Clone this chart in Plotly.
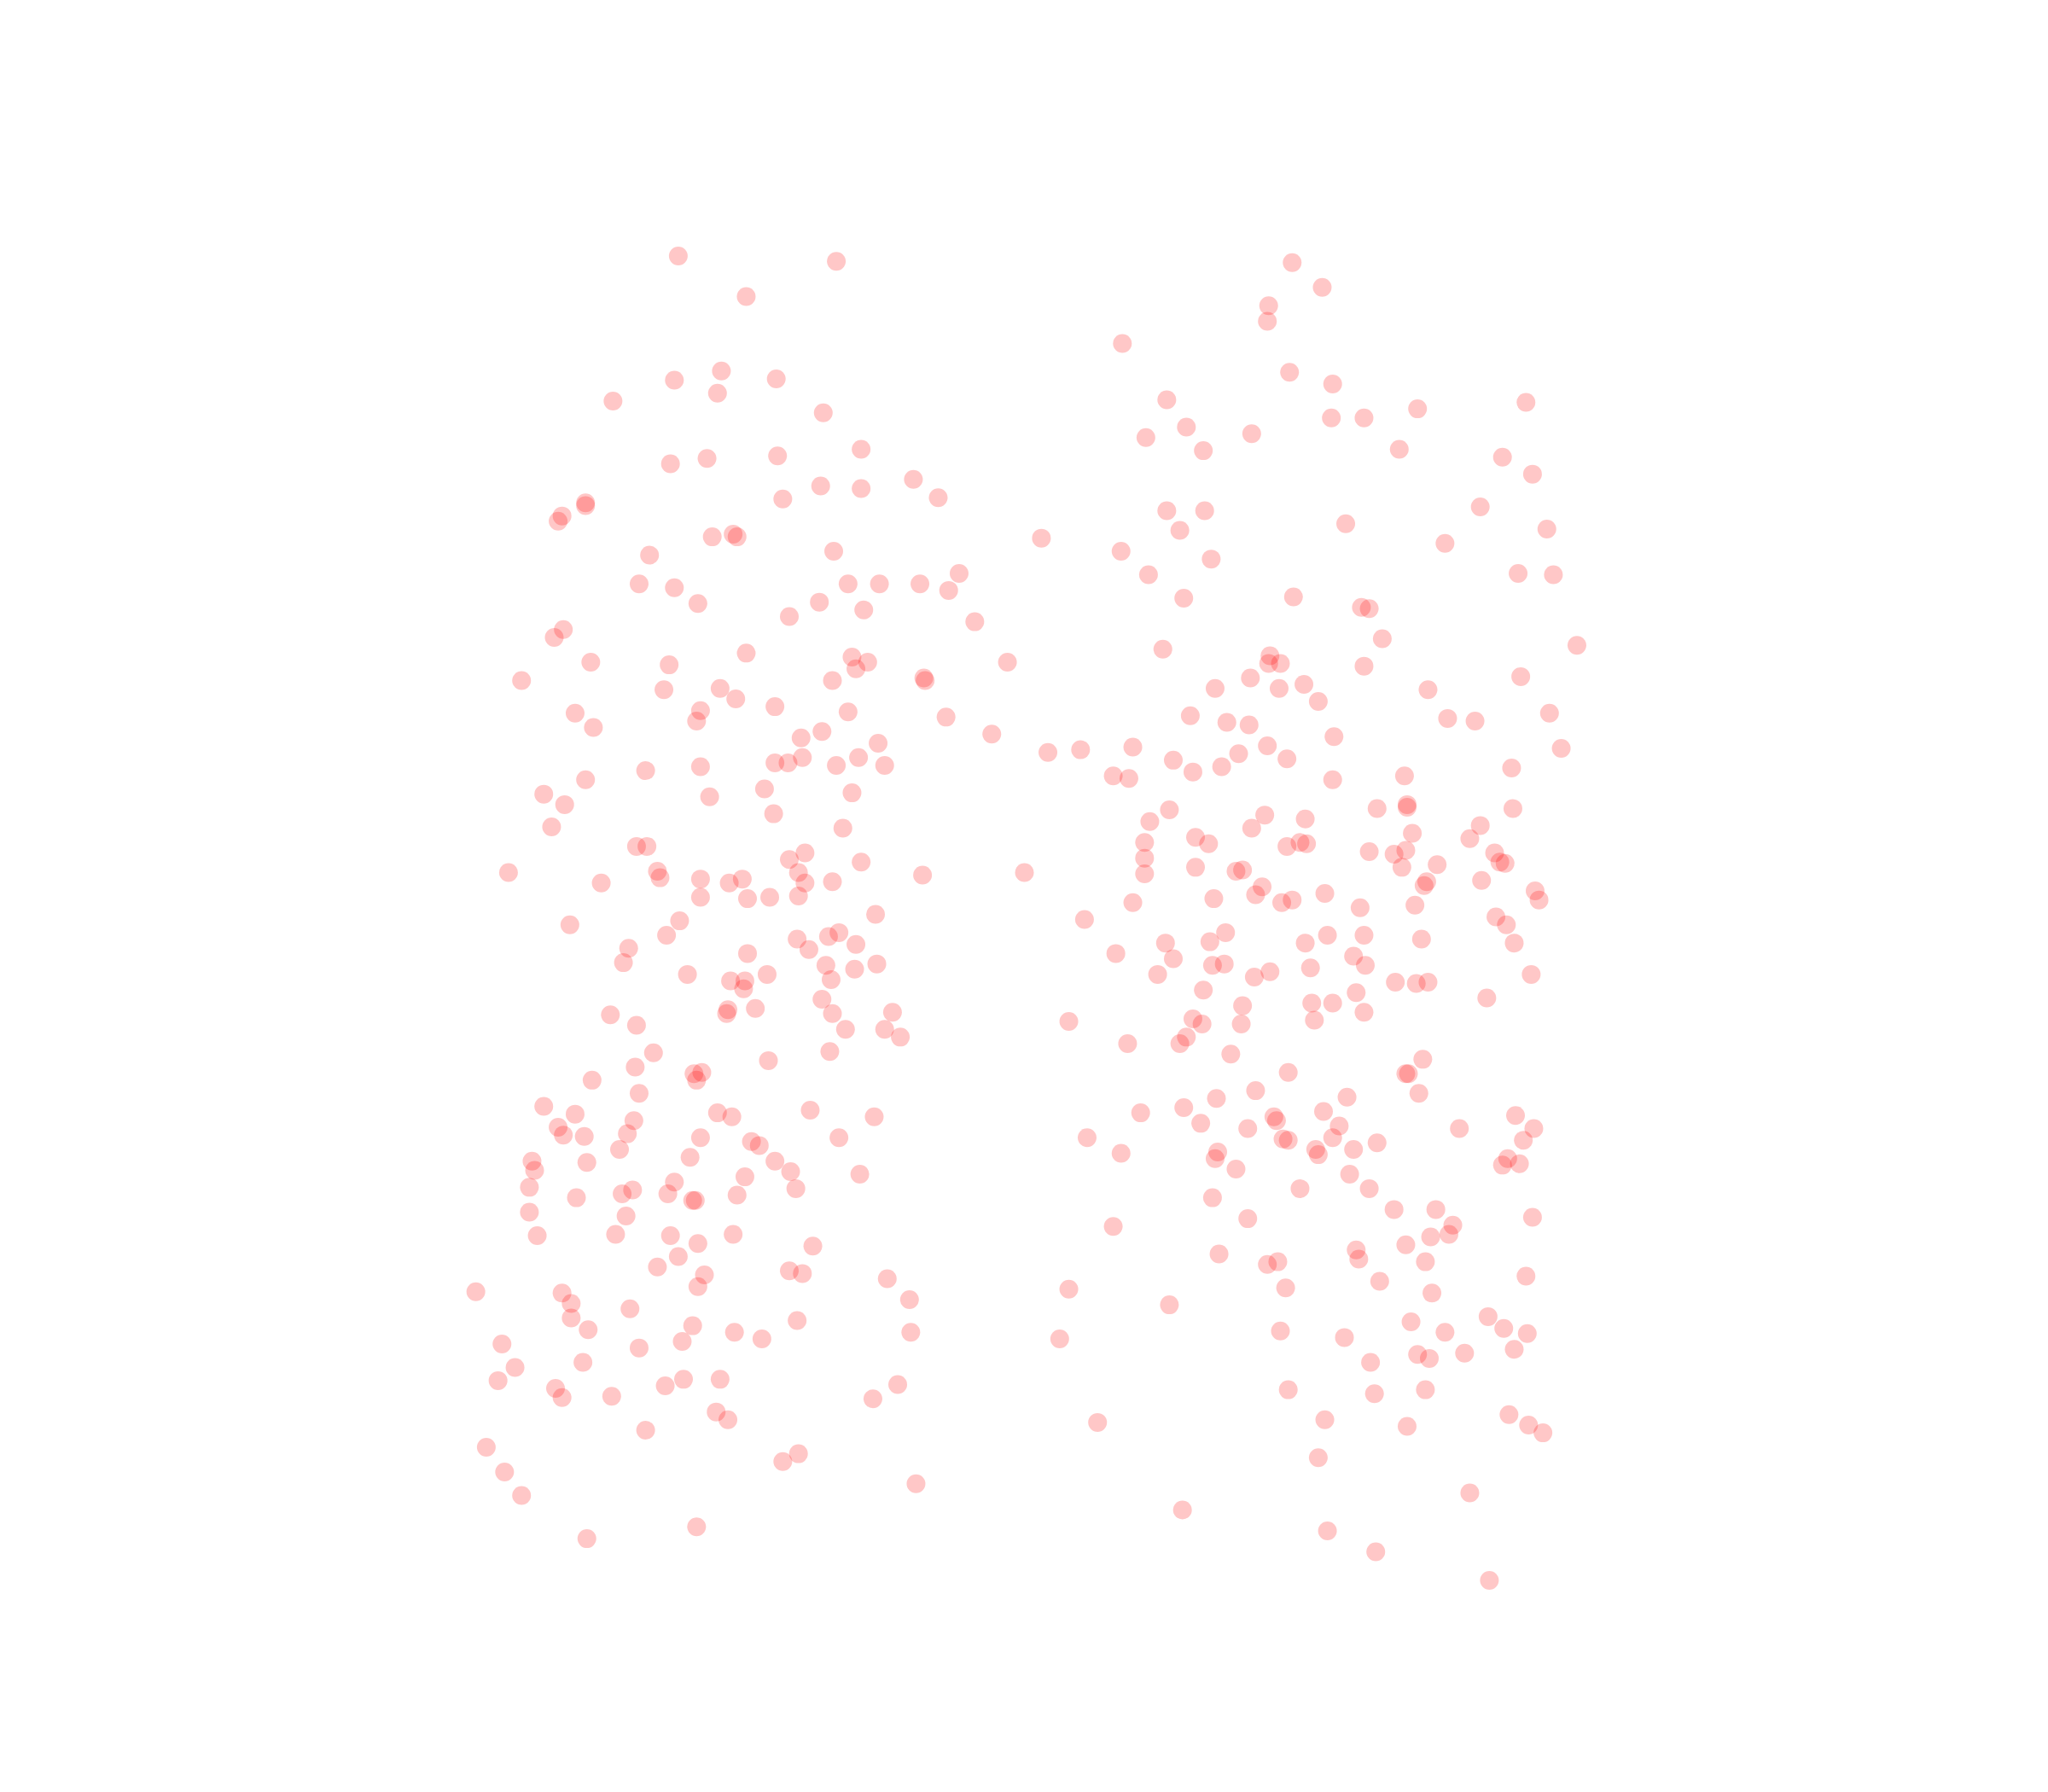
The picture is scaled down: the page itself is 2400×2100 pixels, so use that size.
import plotly.graph_objects as go

pts_left = [(519,196),(640,200),(571,227),(552,284),(516,291),(594,290),(549,301),(469,307),(630,316),(659,344),(595,349),(541,351),(513,355),(699,367),(628,372),(659,374),(718,381),(599,382),(448,385),(448,387),(430,395),(427,399),(561,409),(564,411),(545,411),(797,412),(638,422),(497,425),(734,439),(489,447),(516,450),(649,447),(673,447),(704,447),(726,452),(534,462),(627,461),(661,467),(604,472),(746,476),(431,482),(424,488),(571,500),(652,503),(664,507),(655,512),(452,507),(512,509),(771,507),(399,521),(637,521),(707,519),(708,521),(508,528),(551,527),(563,535),(536,544),(593,541),(649,545),(440,546),(533,552),(454,557),(724,549),(629,560),(613,565),(759,562),(672,569),(802,576),(827,574),(614,580),(657,580),(593,584),(603,584),(640,586),(677,586),(536,587),(494,590),(448,597),(585,604),(416,608),(432,616),(543,610),(652,607),(592,623),(422,633),(645,634),(487,648),(495,648),(616,653),(604,658),(659,660),(389,668),(503,667),(505,672),(611,668),(536,673),(568,673),(558,676),(616,676),(637,675),(706,670),(784,668),(460,676),(536,687),(572,688),(589,687),(611,686),(670,700),(520,705),(436,708),(510,716),(610,719),(634,717),(642,714),(619,727),(655,723),(481,726),(572,730),(477,737),(632,739),(671,738),(654,742),(526,746),(587,746),(559,751),(570,751),(636,750),(569,757),(629,765),(557,773),(556,776),(578,772),(637,776),(683,775),(467,777),(487,785),(647,788),(677,788),(689,794),(635,805),(500,806),(588,812),(486,817),(531,822),(537,821),(533,827),(453,827),(489,837),(416,847),(620,850),(549,852),(560,855),(440,853),(669,855),(485,858),(427,863),(431,869),(447,870),(480,868),(536,871),(642,871),(575,874),(581,877),(474,880),(528,886),(593,889),(449,890),(407,889),(409,896),(605,897),(658,899),(570,901),(516,905),(405,909),(484,911),(476,914),(511,914),(564,915),(609,910),(441,917),(530,919),(532,919),(405,928),(479,931),(411,946),(471,945),(513,946),(561,945),(534,952),(622,954),(519,962),(503,970),(604,973),(614,975),(539,976),(679,979),(534,985),(364,989),(430,990),(437,998),(696,995),(482,1002),(437,1009),(610,1011),(530,1015),(450,1018),(562,1020),(697,1020),(583,1025),(522,1027),(384,1029),(489,1032),(446,1043),(394,1047),(381,1057),(523,1056),(551,1056),(509,1061),(687,1060),(425,1063),(430,1070),(468,1069),(668,1071),(548,1081),(557,1087),(494,1095),(372,1108),(611,1113),(599,1119),(386,1127),(701,1136),(399,1145),(533,1169),(449,1178)]

pts_right = [(989,201),(1012,220),(971,234),(970,246),(859,263),(987,285),(1020,294),(893,306),(1168,308),(1085,313),(1019,320),(1044,320),(908,327),(958,332),(877,335),(921,345),(1071,344),(1150,350),(1173,363),(893,391),(922,391),(1133,388),(1030,401),(903,406),(1184,405),(1106,416),(858,422),(927,428),(879,440),(1162,439),(1189,440),(906,458),(990,457),(1042,465),(1048,466),(1058,489),(890,497),(1207,494),(972,502),(971,508),(980,508),(1044,510),(957,519),(1164,518),(930,527),(979,527),(998,524),(1093,528),(1009,537),(911,548),(939,553),(956,555),(1108,550),(1129,552),(1186,546),(1021,564),(970,571),(867,572),(948,577),(1195,573),(898,582),(935,587),(985,581),(913,591),(852,594),(864,596),(1020,597),(1157,588),(1075,594),(895,620),(1054,619),(1077,616),(1077,618),(1158,619),(968,624),(999,627),(880,629),(958,634),(1133,632),(1081,638),(915,641),(925,646),(876,645),(985,648),(995,645),(1000,646),(1125,642),(1048,652),(1067,654),(1076,651),(1144,653),(876,657),(1148,660),(1152,661),(915,664),(946,667),(951,666),(1073,664),(1100,662),(876,669),(1134,674),(966,679),(1092,675),(1090,678),(961,685),(929,688),(1014,684),(989,689),(981,691),(867,691),(1175,682),(1178,689),(1041,695),(1083,693),(830,704),(1145,702),(1153,708),(938,714),(926,721),(892,722),(1016,716),(1044,716),(999,722),(1088,719),(1159,722),(854,730),(1036,732),(898,734),(928,739),(937,738),(1045,739),(1003,741),(972,744),(960,748),(886,746),(1172,746),(1068,752),(1084,753),(1093,752),(921,758),(1038,760),(1138,764),(1004,768),(1020,768),(951,770),(1044,775),(913,780),(920,784),(950,784),(1006,781),(818,782),(908,794),(903,799),(863,799),(942,807),(1089,811),(986,821),(1076,822),(1078,822),(961,835),(1086,837),(931,841),(1031,840),(906,848),(873,852),(1013,851),(975,855),(977,858),(1160,854),(919,860),(955,864),(1025,862),(1117,864),(1174,864),(982,872),(986,873),(1020,871),(832,871),(1166,873),(1054,875),(858,883),(1036,880),(1007,880),(1009,884),(932,882),(930,887),(1154,887),(1150,892),(1163,891),(946,895),(1033,899),(995,910),(1048,910),(928,917),(1067,926),(955,933),(1099,926),(1173,932),(852,939),(1112,938),(1109,945),(1095,947),(1076,953),(1038,957),(1040,964),(933,960),(970,968),(978,966),(1091,966),(1168,977),(1056,981),(984,986),(1096,990),(818,987),(895,999),(1139,1008),(1080,1012),(1151,1017),(980,1019),(1106,1020),(1169,1021),(811,1025),(1029,1024),(1159,1033),(1085,1037),(1094,1040),(1121,1036),(1049,1043),(986,1064),(1052,1067),(1091,1064),(1155,1083),(1014,1087),(840,1089),(1170,1091),(1077,1092),(1181,1097),(1009,1116),(1125,1143),(905,1156),(1016,1172),(1053,1188),(1140,1210)]

fig = go.Figure()
for pts in (pts_left, pts_right):
    fig.add_trace(go.Scatter(
        x=[p[0] for p in pts], y=[p[1] for p in pts], mode="markers",
        marker=dict(size=22, color="#ff0000", opacity=0.22, line=dict(width=0)),
        showlegend=False, hoverinfo="skip"))
fig.update_layout(
    width=2400, height=2100, margin=dict(l=0, r=0, t=0, b=0),
    paper_bgcolor="white", plot_bgcolor="white", showlegend=False,
    xaxis=dict(range=[4.9, 1572.9], visible=False),
    yaxis=dict(range=[1377.2, 5.2], visible=False))
fig.write_html("out.html")
